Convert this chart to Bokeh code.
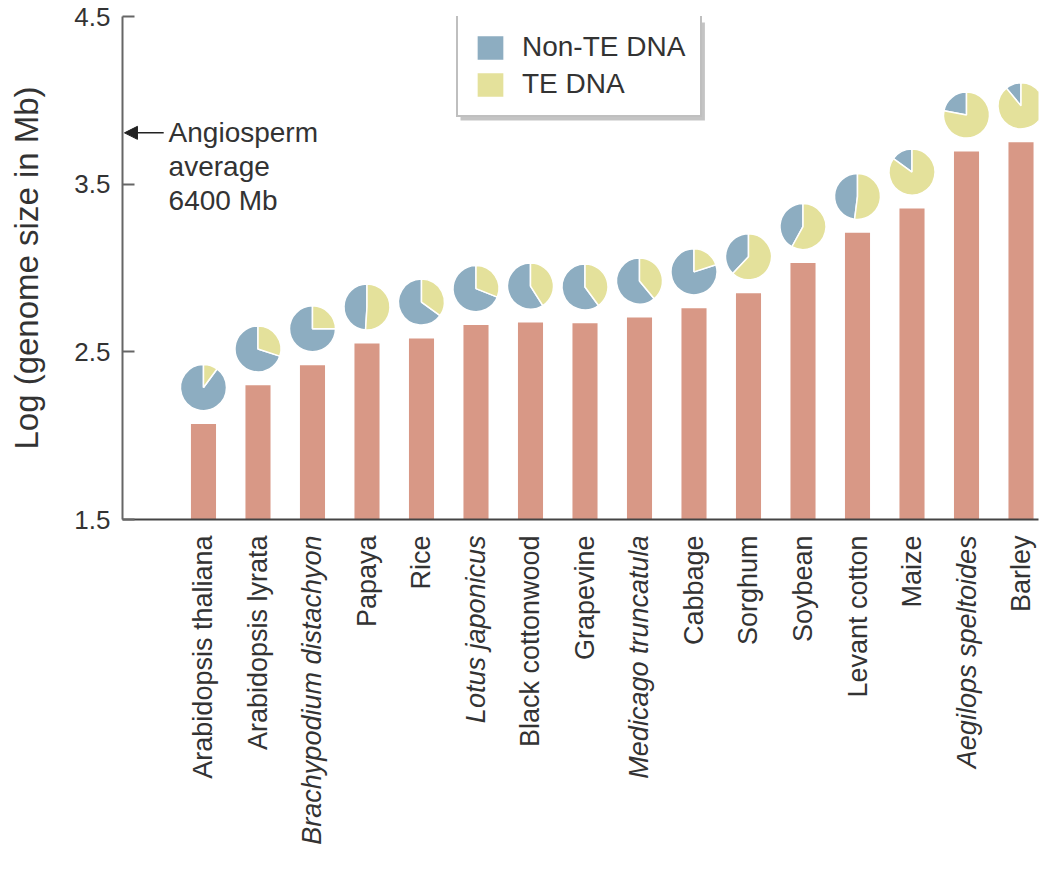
import numpy as np
from bokeh.plotting import figure
from bokeh.layouts import column
from bokeh.models import (ColumnDataSource, Label, Arrow, NormalHead, BoxAnnotation,
                          Legend, LegendItem, FixedTicker, Range1d)
from bokeh.embed import file_html
from bokeh.resources import INLINE
from bokeh.core.properties import value, field

# ---------------- data ----------------
species = ["Arabidopsis thaliana", "Arabidopsis lyrata", "Brachypodium distachyon",
           "Papaya", "Rice", "Lotus japonicus", "Black cottonwood", "Grapevine",
           "Medicago truncatula", "Cabbage", "Sorghum", "Soybean", "Levant cotton",
           "Maize", "Aegilops speltoides", "Barley"]
italic = [False, False, True, False, False, True, False, False,
          True, False, False, False, False, False, True, False]
log_genome_size = [2.07, 2.30, 2.42, 2.55, 2.58, 2.66, 2.675, 2.67,
                   2.705, 2.76, 2.85, 3.03, 3.21, 3.355, 3.695, 3.75]
te_fraction = [0.10, 0.30, 0.25, 0.51, 0.35, 0.31, 0.41, 0.40,
               0.39, 0.20, 0.62, 0.58, 0.52, 0.85, 0.78, 0.89]
angiosperm_avg_mb = 6400
y_ticks = [1.5, 2.5, 3.5, 4.5]
legend_labels = ["Non-TE DNA", "TE DNA"]

# ---------------- style ----------------
BAR = "#D89886"
BLUE = "#8DADC1"
YELLOW = "#E4E19B"
TXT = "#333333"
FONT = "Liberation Sans"
PIE_LIFT = 0.217      # pie centre above bar top (data units)
PIE_R = 23            # pie radius (screen px)
W = 1046
LEFT, RIGHT = 122, 8
TOP_H = 533
BOT_H = 869 - TOP_H

n = len(species)
xs = np.arange(n)
tops = np.array(log_genome_size)
frac = np.array(te_fraction)
top_angle = np.pi / 2
split = top_angle - 2 * np.pi * frac

src = ColumnDataSource(dict(
    x=xs, top=tops, pie_y=tops + PIE_LIFT,
    y_start=split, y_end=np.full(n, top_angle),
    b_start=np.full(n, top_angle), b_end=split + 2 * np.pi,
    name=species, style=["italic" if i else "normal" for i in italic],
))

xr = Range1d(-1.486, 15.321)

p = figure(width=W, height=TOP_H, x_range=xr, y_range=Range1d(1.5, 4.5),
           output_backend="svg", toolbar_location=None,
           min_border_left=LEFT, min_border_right=RIGHT,
           min_border_top=16, min_border_bottom=14)
p.outline_line_color = None
p.xgrid.visible = False
p.ygrid.visible = False

p.vbar(x="x", top="top", bottom=1.5, width=0.46, source=src,
       fill_color=BAR, line_color=None)

blue_r = p.wedge(x="x", y="pie_y", radius=PIE_R, radius_units="screen",
                 start_angle="b_start", end_angle="b_end", source=src,
                 fill_color=BLUE, line_color="white", line_width=1.5)
yel_r = p.wedge(x="x", y="pie_y", radius=PIE_R, radius_units="screen",
                start_angle="y_start", end_angle="y_end", source=src,
                fill_color=YELLOW, line_color="white", line_width=1.5)

# axes
p.yaxis.ticker = FixedTicker(ticks=y_ticks)
p.yaxis.major_label_overrides = {t: f"{t:.1f}" for t in y_ticks}
p.yaxis.major_tick_in = 12
p.yaxis.major_tick_out = 0
p.yaxis.minor_tick_line_color = None
p.yaxis.major_tick_line_color = "#666666"
p.yaxis.major_tick_line_width = 2
p.yaxis.axis_line_color = "#666666"
p.yaxis.axis_line_width = 2
p.yaxis.major_label_text_font = FONT
p.yaxis.major_label_text_font_size = "26px"
p.yaxis.major_label_text_color = TXT
p.yaxis.major_label_standoff = 12
p.yaxis.axis_label = "Log (genome size in Mb)"
p.yaxis.axis_label_text_font = FONT
p.yaxis.axis_label_text_font_size = "33px"
p.yaxis.axis_label_text_font_style = "normal"
p.yaxis.axis_label_text_color = TXT
p.yaxis.axis_label_standoff = 26

p.xaxis.ticker = FixedTicker(ticks=[])
p.xaxis.axis_line_color = "#444444"
p.xaxis.axis_line_width = 2
p.xaxis.major_tick_line_color = None
p.xaxis.minor_tick_line_color = None
p.xaxis.major_tick_out = 0
p.xaxis.major_label_standoff = 0
p.xaxis.major_label_text_font_size = "0px"

# angiosperm average annotation
angio = np.log10(angiosperm_avg_mb)
p.add_layout(Arrow(end=NormalHead(size=13, fill_color="#222222", line_color="#222222"),
                   x_start=-0.73, y_start=angio, x_end=-1.45, y_end=angio,
                   line_color="#222222", line_width=1.5))
for i, t in enumerate(["Angiosperm", "average", f"{angiosperm_avg_mb} Mb"]):
    p.add_layout(Label(x=-0.64, y=angio - 0.203 * i, text=t,
                       text_align="left", text_baseline="middle",
                       text_font=FONT, text_font_size="28px",
                       text_color=TXT))

# soft drop shadow behind the legend box
p.add_layout(BoxAnnotation(left=4.716, right=9.2, top=4.464, bottom=3.879,
                           fill_color="#555555", fill_alpha=0.35,
                           line_color=None))

legend = Legend(items=[LegendItem(label=legend_labels[0], renderers=[blue_r]),
                       LegendItem(label=legend_labels[1], renderers=[yel_r])],
                location=(334, 402), margin=0, padding=15,
                glyph_width=34, glyph_height=31, label_height=30,
                spacing=5, label_standoff=15,
                label_text_font=FONT, label_text_font_size="28px",
                label_text_color=TXT,
                border_line_color="#808080", border_line_width=2,
                background_fill_color="white", background_fill_alpha=1.0)
p.add_layout(legend)

# ---------------- category label strip (shares the x scale) ----------------
p2 = figure(width=W, height=BOT_H, x_range=xr, y_range=Range1d(0, BOT_H),
            output_backend="svg", toolbar_location=None,
            x_axis_location=None, y_axis_location=None,
            min_border_left=LEFT, min_border_right=RIGHT,
            min_border_top=0, min_border_bottom=0)
p2.outline_line_color = None
p2.grid.visible = False
p2.text(x="x", y=BOT_H - 2, text="name", source=src, angle=np.pi / 2,
        text_align="right", text_baseline="middle",
        text_font=value(FONT), text_font_size="27px",
        text_font_style=field("style"), text_color=TXT)

open("out.html", "w").write(file_html(column(p, p2), INLINE))
